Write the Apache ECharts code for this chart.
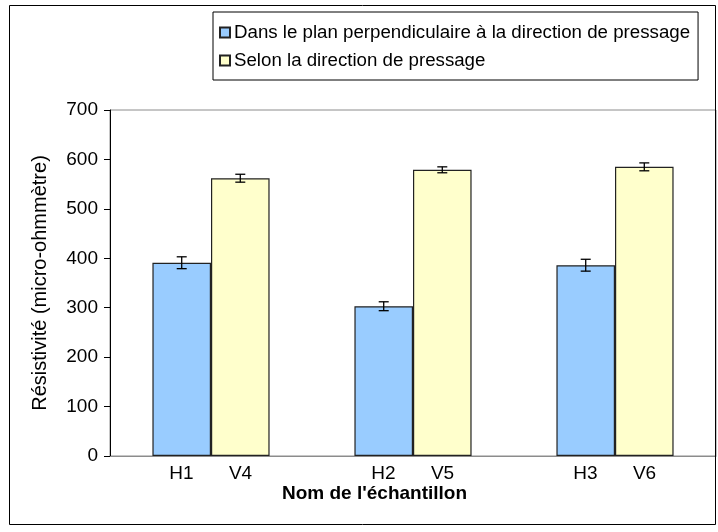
<!DOCTYPE html>
<html>
<head>
<meta charset="utf-8">
<script src="https://cdn.jsdelivr.net/npm/echarts@6/dist/echarts.min.js"></script>
<style>
  html, body { margin: 0; padding: 0; background: #fff; }
  #chart { width: 718px; height: 532px; }
</style>
</head>
<body>
<div id="chart"></div>
<script>
// Sample names, one pair per group
const perpNames = ['H1', 'H2', 'H3'];
const axialNames = ['V4', 'V5', 'V6'];
const groups = ['g1', 'g2', 'g3'];

// Resistivity (micro-ohm·m) and error half-widths
const perpValues = [391, 303, 386];
const perpErrors = [12, 9, 12];
const axialValues = [562, 579, 585];
const axialErrors = [8, 6, 8];

const seriesNames = [
  'Dans le plan perpendiculaire à la direction de pressage',
  'Selon la direction de pressage'
];

const yMin = 0, yMax = 700, yStep = 100;

const FONT = 'Liberation Sans, Arial, sans-serif';
const chart = echarts.init(document.getElementById('chart'));

// Error bar drawn at a bar's centre: side is -1 for the left bar, +1 for the right
function errorBarSeries(values, errors, side) {
  return {
    type: 'custom',
    z: 5,
    silent: true,
    data: values.map((v, i) => [i, v - errors[i], v + errors[i]]),
    renderItem: function (params, api) {
      const idx = api.value(0);
      const lo = api.coord([idx, api.value(1)]);
      const hi = api.coord([idx, api.value(2)]);
      const band = api.size([1, 0])[0];
      const barW = band * 0.29;
      const x = lo[0] + side * barW / 2;
      const cap = 5;
      const style = { stroke: '#000', lineWidth: 1.3 };
      return {
        type: 'group',
        children: [
          { type: 'line', shape: { x1: x, y1: lo[1], x2: x, y2: hi[1] }, style: style },
          { type: 'line', shape: { x1: x - cap, y1: lo[1], x2: x + cap, y2: lo[1] }, style: style },
          { type: 'line', shape: { x1: x - cap, y1: hi[1], x2: x + cap, y2: hi[1] }, style: style }
        ]
      };
    }
  };
}

chart.setOption({
  animation: false,
  backgroundColor: '#fff',
  textStyle: { fontFamily: FONT, color: '#000' },
  grid: {
    left: 110, right: 2, top: 110, bottom: 76,
    show: true, borderColor: '#8c8c8c', borderWidth: 1, backgroundColor: 'transparent'
  },
  legend: {
    orient: 'vertical',
    left: 213, top: 12,
    padding: [11, 8, 10, 6],
    itemGap: 9,
    backgroundColor: '#fff',
    borderColor: '#000',
    borderWidth: 1,
    icon: 'rect',
    itemWidth: 10, itemHeight: 10,
    textStyle: { fontFamily: FONT, fontSize: 18.7, color: '#000', padding: [0, 0, 0, -1] },
    data: seriesNames
  },
  xAxis: {
    type: 'category',
    data: groups,
    axisLine: { lineStyle: { color: '#8c8c8c', width: 1 } },
    axisTick: { show: false },
    axisLabel: {
      margin: 8,
      formatter: function (val, i) {
        return '{a|' + perpNames[i] + '}{b|' + axialNames[i] + '}';
      },
      rich: {
        a: { width: 59, align: 'center', fontSize: 19, fontFamily: FONT, color: '#000' },
        b: { width: 59, align: 'center', fontSize: 19, fontFamily: FONT, color: '#000' }
      }
    }
  },
  yAxis: {
    type: 'value',
    min: yMin, max: yMax, interval: yStep,
    name: 'Résistivité (micro-ohmmètre)',
    nameLocation: 'middle',
    nameGap: 60,
    nameTextStyle: { fontFamily: FONT, fontSize: 20, color: '#000' },
    axisLine: { show: true, lineStyle: { color: '#000', width: 1 } },
    axisTick: { show: true, inside: false, length: 6, lineStyle: { color: '#000' } },
    axisLabel: { fontSize: 19, fontFamily: FONT, color: '#000', margin: 12 },
    splitLine: { show: false }
  },
  series: [
    {
      name: seriesNames[0],
      type: 'bar',
      data: perpValues,
      barGap: '0%',
      barCategoryGap: '42%',
      itemStyle: { color: '#99ccff', borderColor: '#222', borderWidth: 1.2 }
    },
    {
      name: seriesNames[1],
      type: 'bar',
      data: axialValues,
      itemStyle: { color: '#ffffcc', borderColor: '#222', borderWidth: 1.2 }
    },
    errorBarSeries(perpValues, perpErrors, -1),
    errorBarSeries(axialValues, axialErrors, 1)
  ],
  graphic: [
    {
      type: 'rect',
      shape: { x: 9.5, y: 5.5, width: 706, height: 519 },
      style: { fill: 'none', stroke: '#000', lineWidth: 1 },
      z: 100
    },
    {
      type: 'text',
      left: 282, top: 484,
      style: { text: "Nom de l'échantillon", font: 'bold 19px ' + FONT, fill: '#000' }
    }
  ]
});
</script>
</body>
</html>
